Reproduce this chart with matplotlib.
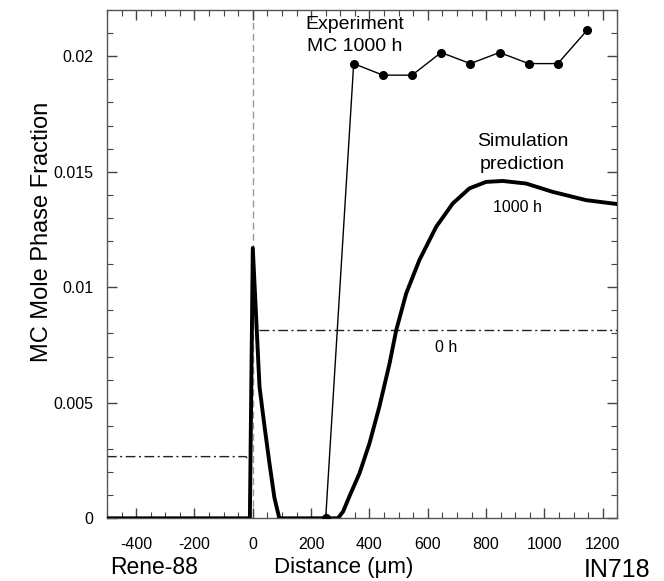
import matplotlib
matplotlib.use("Agg")
import matplotlib.pyplot as plt
from matplotlib.ticker import MultipleLocator, FuncFormatter

plt.rcParams['font.family'] = ['Liberation Sans', 'DejaVu Sans']

# Simulation prediction, 1000 h
sim_x = [-500, -10, 0, 23, 40, 57, 74, 91, 292, 310, 331, 366, 400, 434, 469, 492, 526,
         571, 629, 686, 743, 800, 857, 937, 1028, 1143, 1250]
sim_y = [0, 0, 0.0117, 0.0057, 0.0040, 0.0024, 0.0009, 0, 0, 0.0003, 0.00094, 0.00195,
         0.00324, 0.00483, 0.0067, 0.00815, 0.00973, 0.01117, 0.01262, 0.01363, 0.01428,
         0.01456, 0.0146, 0.01449, 0.01413, 0.01377, 0.0136]

# Initial profile, 0 h
h0_left_x = [-500, -23, -15]
h0_left_y = [0.00267, 0.00267, 0.00249]
h0_right_x = [23, 1250]
h0_right_y = [0.00813, 0.00813]

# Experiment MC 1000 h
exp_x = [250, 346, 446, 546, 646, 746, 846, 946, 1046, 1146]
exp_y = [0, 0.01968, 0.01918, 0.01918, 0.02016, 0.01968, 0.02016, 0.01968, 0.01968, 0.02112]

fig = plt.figure(figsize=(6.64, 5.81), dpi=100)
ax = fig.add_axes([0.1611, 0.1079, 0.9297 - 0.1611, 0.9828 - 0.1079])

ax.axvline(0, color='#999999', lw=1.0, linestyle=(0, (5, 3)), zorder=1)
ax.plot(h0_left_x, h0_left_y, color='#222222', lw=1.0, linestyle=(0, (7, 2.5, 1.5, 2.5)), zorder=2)
ax.plot(h0_right_x, h0_right_y, color='#222222', lw=1.0, linestyle=(0, (7, 2.5, 1.5, 2.5)), zorder=2)
ax.plot(sim_x, sim_y, color='black', lw=2.8, solid_joinstyle='round', zorder=3)
ax.plot(exp_x, exp_y, color='black', lw=1.0, marker='o', markersize=5.5, zorder=4)

ax.set_xlim(-500, 1250)
ax.set_ylim(0, 0.022)
ax.xaxis.set_major_locator(MultipleLocator(200))
ax.xaxis.set_minor_locator(MultipleLocator(50))
ax.yaxis.set_major_locator(MultipleLocator(0.005))
ax.yaxis.set_minor_locator(MultipleLocator(0.001))
ax.yaxis.set_major_formatter(FuncFormatter(lambda v, p: '%g' % round(v, 4)))
ax.xaxis.set_major_formatter(FuncFormatter(lambda v, p: '%d' % v))
ax.tick_params(which='both', direction='in', top=True, right=True, color='#444444')
ax.tick_params(which='major', length=7, width=1, labelsize=11.5)
ax.tick_params(axis='x', which='major', pad=13.5)
ax.tick_params(axis='y', which='major', pad=10)
ax.tick_params(which='minor', length=4, width=0.8)
for s in ax.spines.values():
    s.set_color('#555555')
    s.set_linewidth(1.0)

fig.text(42 / 664, 1 - 232 / 581, 'MC Mole Phase Fraction', fontsize=17,
         rotation=90, ha='center', va='center')

fig.text(0.517, 1 - 567 / 581, 'Distance (\u03bcm)', fontsize=16, ha='center', va='center')
fig.text(0.232, 1 - 567 / 581, 'Rene-88', fontsize=16.5, ha='center', va='center')
fig.text(617.5 / 664, 1 - 570 / 581, 'IN718', fontsize=18, ha='center', va='center')

ax.text(350, 0.02175, 'Experiment\nMC 1000 h', fontsize=14, ha='center', va='top', linespacing=1.4)
ax.text(925, 0.01668, 'Simulation\nprediction', fontsize=14, ha='center', va='top', linespacing=1.5)
ax.text(906, 0.01345, '1000 h', fontsize=11.5, ha='center', va='center')
ax.text(662, 0.0074, '0 h', fontsize=11.5, ha='center', va='center')

fig.savefig('out.png', dpi=100)
